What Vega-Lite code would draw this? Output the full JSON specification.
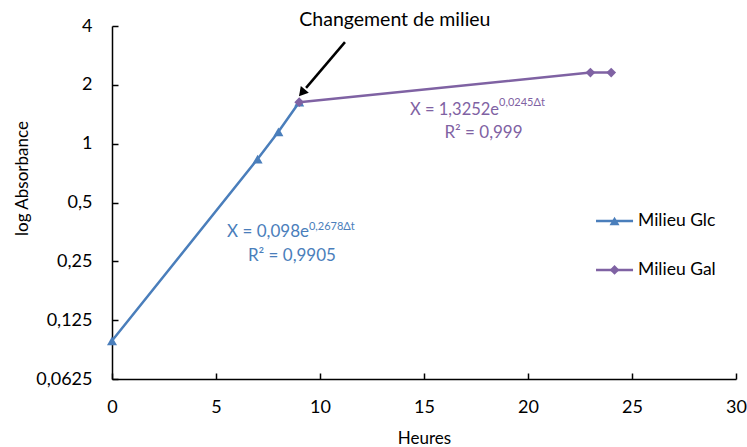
{
  "$schema": "https://vega.github.io/schema/vega-lite/v6.json",
  "width": 624,
  "height": 353,
  "autosize": "none",
  "padding": {"left": 112, "top": 26, "right": 11, "bottom": 68},
  "background": "white",
  "config": {
    "view": {"stroke": null},
    "font": "Lato",
    "axis": {
      "grid": false,
      "domainColor": "#000",
      "tickColor": "#000",
      "labelFont": "Lato",
      "titleFont": "Lato",
      "labelFontSize": 18,
      "titleFontSize": 17,
      "titleFontWeight": "normal",
      "labelColor": "#000",
      "titleColor": "#000",
      "domainWidth": 1.5,
      "tickWidth": 1.5
    }
  },
  "datasets": {
    "mesures": [
      {"serie": "Milieu Glc", "heure": 0, "abs": 0.098},
      {"serie": "Milieu Glc", "heure": 7, "abs": 0.834},
      {"serie": "Milieu Glc", "heure": 8, "abs": 1.15},
      {"serie": "Milieu Glc", "heure": 9, "abs": 1.63},
      {"serie": "Milieu Gal", "heure": 9, "abs": 1.63},
      {"serie": "Milieu Gal", "heure": 23, "abs": 2.31},
      {"serie": "Milieu Gal", "heure": 24, "abs": 2.31}
    ]
  },
  "layer": [
    {
      "data": {"name": "mesures"},
      "mark": {"type": "line", "strokeWidth": 2.5},
      "encoding": {
        "x": {
          "field": "heure", "type": "quantitative",
          "scale": {"domain": [0, 30], "nice": false, "zero": false},
          "axis": {"values": [0, 5, 10, 15, 20, 25, 30], "title": "Heures", "tickSize": -6, "labelPadding": 25, "titlePadding": 14, "labelFlush": false}
        },
        "y": {
          "field": "abs", "type": "quantitative",
          "scale": {"type": "log", "base": 2, "domain": [0.0625, 4], "nice": false},
          "axis": {"values": [0.0625, 0.125, 0.25, 0.5, 1, 2, 4], "title": "log Absorbance", "tickSize": -6, "labelPadding": 26,
                   "titleX": -85, "titleY": 152, "titleBaseline": "alphabetic", "titleAlign": "center", "titleAngle": -90,
                   "labelExpr": "replace(format(datum.value, ''), '.', ',')"}
        },
        "color": {
          "field": "serie", "type": "nominal",
          "scale": {"domain": ["Milieu Glc", "Milieu Gal"], "range": ["#4a7ebb", "#7f62a3"]},
          "legend": null
        }
      }
    },
    {
      "data": {"name": "mesures"},
      "transform": [{"filter": "datum.serie == 'Milieu Glc'"}],
      "mark": {"type": "point", "filled": true, "size": 100, "opacity": 1, "shape": "triangle-up"},
      "encoding": {
        "x": {"field": "heure", "type": "quantitative"},
        "y": {"field": "abs", "type": "quantitative"},
        "color": {"field": "serie", "type": "nominal", "legend": null}
      }
    },
    {
      "data": {"name": "mesures"},
      "transform": [{"filter": "datum.serie == 'Milieu Gal'"}],
      "mark": {"type": "point", "filled": true, "size": 95, "opacity": 1, "shape": "diamond"},
      "encoding": {
        "x": {"field": "heure", "type": "quantitative"},
        "y": {"field": "abs", "type": "quantitative"},
        "color": {"field": "serie", "type": "nominal", "legend": null}
      }
    },
    {
      "data": {"values": [{}]},
      "mark": {"type": "rule", "strokeWidth": 2.5, "color": "#4a7ebb"},
      "encoding": {"x": {"datum": 23.27}, "x2": {"datum": 25.05}, "y": {"datum": 0.402}}
    },
    {
      "data": {"values": [{}]},
      "mark": {"type": "point", "shape": "triangle-up", "filled": true, "size": 100, "color": "#4a7ebb", "opacity": 1},
      "encoding": {"x": {"datum": 24.16}, "y": {"datum": 0.402}}
    },
    {
      "data": {"values": [{}]},
      "mark": {"type": "text", "text": "Milieu Glc", "fontSize": 17.5, "font": "Lato", "color": "#000", "align": "left", "baseline": "middle"},
      "encoding": {"x": {"datum": 25.29}, "y": {"datum": 0.402}}
    },
    {
      "data": {"values": [{}]},
      "mark": {"type": "rule", "strokeWidth": 2.5, "color": "#7f62a3"},
      "encoding": {"x": {"datum": 23.27}, "x2": {"datum": 25.05}, "y": {"datum": 0.226}}
    },
    {
      "data": {"values": [{}]},
      "mark": {"type": "point", "shape": "diamond", "filled": true, "size": 95, "color": "#7f62a3", "opacity": 1},
      "encoding": {"x": {"datum": 24.16}, "y": {"datum": 0.226}}
    },
    {
      "data": {"values": [{}]},
      "mark": {"type": "text", "text": "Milieu Gal", "fontSize": 17.5, "font": "Lato", "color": "#000", "align": "left", "baseline": "middle"},
      "encoding": {"x": {"datum": 25.29}, "y": {"datum": 0.226}}
    },
    {
      "data": {"values": [{}]},
      "mark": {"type": "text", "text": "Changement de milieu", "fontSize": 19.5, "font": "Lato", "color": "#000", "align": "center", "baseline": "middle"},
      "encoding": {"x": {"datum": 13.6}, "y": {"datum": 4.29}}
    },
    {
      "data": {"values": [{}]},
      "mark": {"type": "rule", "strokeWidth": 2.5, "color": "#000"},
      "encoding": {"x": {"datum": 11.2}, "y": {"datum": 3.31}, "x2": {"datum": 9.33}, "y2": {"datum": 1.93}}
    },
    {
      "data": {"values": [{}]},
      "mark": {"type": "point", "shape": "triangle-up", "filled": true, "size": 110, "color": "#000", "opacity": 1, "angle": 220},
      "encoding": {"x": {"datum": 9.13}, "y": {"datum": 1.82}}
    },
    {
      "data": {"values": [{}]},
      "mark": {"type": "text", "text": "X = 0,098e", "fontSize": 17, "font": "Lato", "color": "#4a7ebb", "align": "right", "baseline": "middle"},
      "encoding": {"x": {"datum": 9.47}, "y": {"datum": 0.353}}
    },
    {
      "data": {"values": [{}]},
      "mark": {"type": "text", "text": "0,2678Δt", "fontSize": 11, "font": "Lato", "color": "#4a7ebb", "align": "left", "baseline": "middle"},
      "encoding": {"x": {"datum": 9.47}, "y": {"datum": 0.375}}
    },
    {
      "data": {"values": [{}]},
      "mark": {"type": "text", "text": "R² = 0,9905", "fontSize": 17, "font": "Lato", "color": "#4a7ebb", "align": "center", "baseline": "middle"},
      "encoding": {"x": {"datum": 8.65}, "y": {"datum": 0.266}}
    },
    {
      "data": {"values": [{}]},
      "mark": {"type": "text", "text": "X = 1,3252e", "fontSize": 16.5, "font": "Lato", "color": "#7f62a3", "align": "right", "baseline": "middle"},
      "encoding": {"x": {"datum": 18.61}, "y": {"datum": 1.487}}
    },
    {
      "data": {"values": [{}]},
      "mark": {"type": "text", "text": "0,0245Δt", "fontSize": 11, "font": "Lato", "color": "#7f62a3", "align": "left", "baseline": "middle"},
      "encoding": {"x": {"datum": 18.61}, "y": {"datum": 1.615}}
    },
    {
      "data": {"values": [{}]},
      "mark": {"type": "text", "text": "R² = 0,999", "fontSize": 17, "font": "Lato", "color": "#7f62a3", "align": "center", "baseline": "middle"},
      "encoding": {"x": {"datum": 17.86}, "y": {"datum": 1.135}}
    }
  ]
}
